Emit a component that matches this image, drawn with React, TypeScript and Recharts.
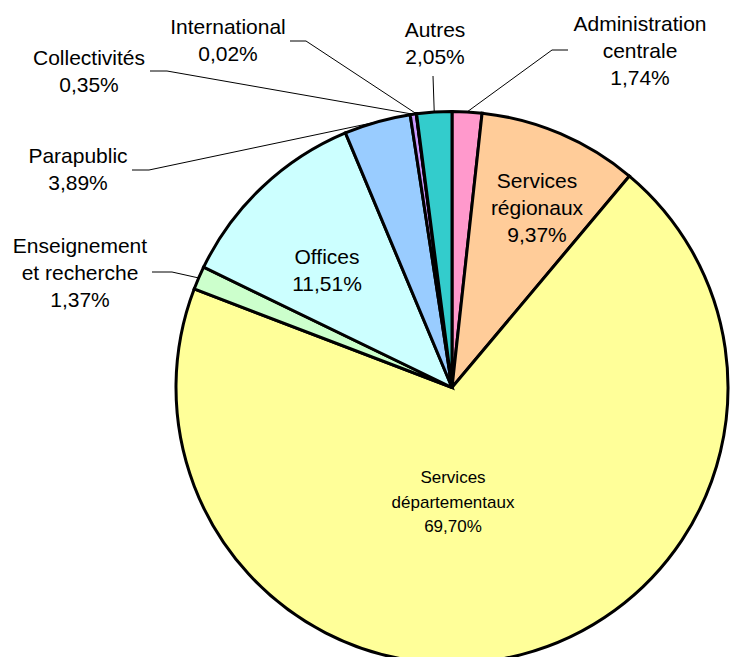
import { PieChart, Pie, Cell } from "recharts";

const CATEGORIES = [
  "Administration centrale",
  "Services régionaux",
  "Services départementaux",
  "Enseignement et recherche",
  "Offices",
  "Parapublic",
  "Collectivités",
  "International",
  "Autres",
];

const SHARES = [1.74, 9.37, 69.7, 1.37, 11.51, 3.89, 0.35, 0.02, 2.05];

// label text, split in lines as in the original
const LABEL_LINES = [
  ["Administration", "centrale"],
  ["Services", "régionaux"],
  ["Services", "départementaux"],
  ["Enseignement", "et recherche"],
  ["Offices"],
  ["Parapublic"],
  ["Collectivités"],
  ["International"],
  ["Autres"],
];

const COLORS = [
  "#FF99CC",
  "#FFCC99",
  "#FFFF99",
  "#CCFFCC",
  "#CCFFFF",
  "#99CCFF",
  "#CC99FF",
  "#9999FF",
  "#33CCCC",
];

const DATA = CATEGORIES.map((name, i) => ({ name, value: SHARES[i] }));

// label placement relative to the pie centre: elbow of the leader line,
// end of its short horizontal part, and centre of the text block
type Layout = {
  inside?: boolean;
  elbow?: [number, number];
  end?: [number, number];
  text: [number, number];
  size: number;
  lh: number;
};

const LAYOUT: Layout[] = [
  { elbow: [100, -337.5], end: [116, -337.5], text: [188, -337.5], size: 21, lh: 27 },
  { inside: true, text: [85, -180.5], size: 21, lh: 27 },
  { inside: true, text: [1, 114.5], size: 17, lh: 24.5 },
  { elbow: [-280, -115.5], end: [-300, -115.5], text: [-372, -115.5], size: 21, lh: 27 },
  { inside: true, text: [-125, -117.5], size: 21, lh: 27 },
  { elbow: [-303, -217.5], end: [-320, -217.5], text: [-374, -218.5], size: 21, lh: 27 },
  { elbow: [-285, -316.5], end: [-302, -316.5], text: [-363, -316.5], size: 21, lh: 27 },
  { elbow: [-146, -346.5], end: [-162, -346.5], text: [-224, -347.5], size: 21, lh: 27 },
  { elbow: [-19, -311.5], text: [-17, -344.5], size: 21, lh: 27 },
];

const fmt = (v: number) => v.toFixed(2).replace(".", ",") + "%";

const RAD = Math.PI / 180;

const renderLabel = (props: any) => {
  const { cx, cy, midAngle, outerRadius, index, value } = props;
  const l = LAYOUT[index];
  const lines = [...LABEL_LINES[index], fmt(value)];
  const tx = cx + l.text[0];
  const ty = cy + l.text[1];
  const y0 = ty - ((lines.length - 1) * l.lh) / 2;
  let path = "";
  if (!l.inside && l.elbow) {
    const sx = cx + outerRadius * Math.cos(-midAngle * RAD);
    const sy = cy + outerRadius * Math.sin(-midAngle * RAD);
    path = `M${sx},${sy}L${cx + l.elbow[0]},${cy + l.elbow[1]}`;
    if (l.end) path += `L${cx + l.end[0]},${cy + l.end[1]}`;
  }
  return (
    <g key={`lbl-${index}`}>
      {path && <path d={path} stroke="#000" strokeWidth={1} fill="none" />}
      <text
        x={tx}
        y={y0}
        textAnchor="middle"
        fontFamily="'Liberation Sans', Arial, sans-serif"
        fontSize={l.size}
        fill="#000"
      >
        {lines.map((t, k) => (
          <tspan key={k} x={tx} y={y0 + k * l.lh} dominantBaseline="central">
            {t}
          </tspan>
        ))}
      </text>
    </g>
  );
};

export default function App() {
  return (
    <div style={{ position: "absolute", left: 0, top: 0, width: 730, height: 657, background: "#fff", overflow: "hidden" }}>
      <PieChart width={730} height={657} margin={{ top: 0, right: 0, bottom: 0, left: 0 }}>
        <Pie
          data={DATA}
          dataKey="value"
          nameKey="name"
          cx={452}
          cy={387.5}
          outerRadius={276}
          startAngle={90}
          endAngle={-270}
          stroke="#000"
          strokeWidth={3}
          label={renderLabel}
          labelLine={false}
          isAnimationActive={false}
        >
          {DATA.map((d, i) => (
            <Cell key={d.name} fill={COLORS[i]} />
          ))}
        </Pie>
      </PieChart>
    </div>
  );
}
